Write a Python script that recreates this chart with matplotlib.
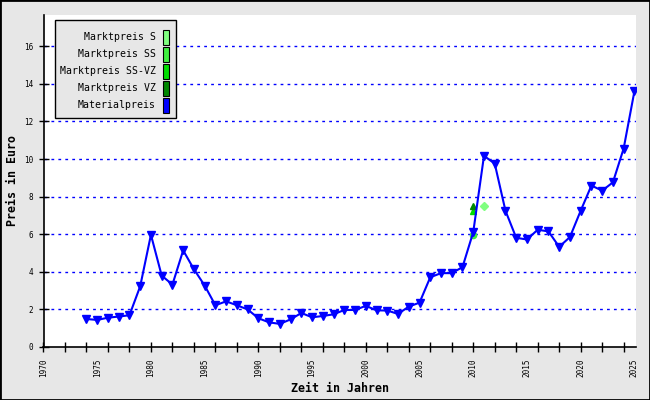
import matplotlib
matplotlib.use("Agg")
import matplotlib.pyplot as plt
from matplotlib.patches import Rectangle

# ---- data ----
years = list(range(1974, 2026))
material = [1.49, 1.44, 1.56, 1.62, 1.69, 3.23, 5.97, 3.80, 3.32, 5.14,
            4.14, 3.27, 2.22, 2.43, 2.22, 2.00, 1.53, 1.31, 1.23, 1.47,
            1.81, 1.58, 1.65, 1.74, 1.97, 1.97, 2.19, 1.95, 1.94, 1.76,
            2.15, 2.36, 3.71, 3.93, 3.93, 4.25, 6.11, 10.17, 9.76, 7.25,
            5.81, 5.72, 6.24, 6.15, 5.33, 5.85, 7.25, 8.59, 8.32, 8.76,
            10.56, 13.60]
s_years, s_vals = [2011], [7.48]
ss_years, ss_vals = [2010], [5.95]
ssvz_years, ssvz_vals = [2010], [7.22]
vz_years, vz_vals = [2010], [7.50]

legend_labels = ["Marktpreis S", "Marktpreis SS", "Marktpreis SS-VZ",
                 "Marktpreis VZ", "Materialpreis"]
legend_colors = ["#80ff80", "#40f040", "#00dd00", "#008800", "#0000ff"]

xticks_major = list(range(1970, 2026, 2))
xtick_labels = list(range(1970, 2026, 5))
yticks = list(range(0, 17, 2))

W, H = 650, 400
mono = "DejaVu Sans Mono"

fig = plt.figure(figsize=(W / 100, H / 100), dpi=100, facecolor="#e7e7e7")

def fx(px):
    return px / W

def fy(py):
    return 1 - py / H

ax_l, ax_r, ax_t, ax_b = 43.5, 636, 15, 347
ax = fig.add_axes([fx(ax_l), fy(ax_b), fx(ax_r) - fx(ax_l), fy(ax_t) - fy(ax_b)])
ax.set_facecolor("white")

px_per_unit = (347 - 46.3) / 16
ymax = (347 - 15) / px_per_unit
ax.set_ylim(0, ymax)
ax.set_xlim(1970, 2025.15)

for y in yticks[1:]:
    ax.axhline(y, color="#0000ff", lw=1, ls=(0, (2, 3)), zorder=1)

ax.plot(s_years, s_vals, ls="none", marker="D", ms=4, color=legend_colors[0], zorder=3)
ax.plot(ss_years, ss_vals, ls="none", marker="o", ms=4.5, color=legend_colors[1], zorder=3)
ax.plot(ssvz_years, ssvz_vals, ls="none", marker="^", ms=4.5, color=legend_colors[2], zorder=3)
ax.plot(vz_years, vz_vals, ls="none", marker="^", ms=4.5, color=legend_colors[3], zorder=3)
ax.plot(years, material, color="#0000ff", lw=1.5, marker="v", ms=5.5, zorder=4)

for sp in ["top", "right"]:
    ax.spines[sp].set_visible(False)
for sp in ["left", "bottom"]:
    ax.spines[sp].set_linewidth(1.2)
    ax.spines[sp].set_color("black")

ax.xaxis.remove_overlapping_locs = False
ax.set_xticks(xticks_major)
ax.set_xticklabels([])
ax.tick_params(axis="x", which="major", direction="inout", length=7, width=1)
ax.set_xticks(xtick_labels, minor=True)
ax.set_xticklabels([str(v) for v in xtick_labels], minor=True, rotation=90,
                   fontsize=5.5, family=mono)
ax.tick_params(axis="x", which="minor", length=0, pad=8)

ax.set_yticks(yticks)
ax.set_yticklabels([str(v) for v in yticks], fontsize=5.5, family=mono)
ax.tick_params(axis="y", which="major", direction="inout", length=7, width=1, pad=4)

fig.text(fx(12), fy(181), "Preis in Euro", rotation=90, ha="center", va="center",
         fontsize=8.4, fontweight="bold", family=mono)
fig.text(fx(339.5), fy(388), "Zeit in Jahren", ha="center", va="center",
         fontsize=8.4, fontweight="bold", family=mono)

# legend box (manual)
lx0, lx1, ly0, ly1 = 55, 176, 20, 118
fig.add_artist(Rectangle((fx(lx0), fy(ly1)), fx(lx1) - fx(lx0), fy(ly0) - fy(ly1),
                         transform=fig.transFigure, facecolor="#e7e7e7",
                         edgecolor="black", lw=1, zorder=10))
rows = [37, 54, 71, 88, 105]
for lab, col, ry in zip(legend_labels, legend_colors, rows):
    fig.text(fx(156), fy(ry), lab, ha="right", va="center", fontsize=7.1,
             family=mono, zorder=11)
    fig.add_artist(Rectangle((fx(163), fy(ry + 7.5)), fx(6.5), fy(0) - fy(15),
                             transform=fig.transFigure, facecolor=col,
                             edgecolor="black", lw=0.8, zorder=11))

# outer border
fig.add_artist(Rectangle((0, 0), 1, 1, transform=fig.transFigure, fill=False,
                         edgecolor="black", lw=2, zorder=20))

fig.savefig("out.png", dpi=100, facecolor=fig.get_facecolor())
